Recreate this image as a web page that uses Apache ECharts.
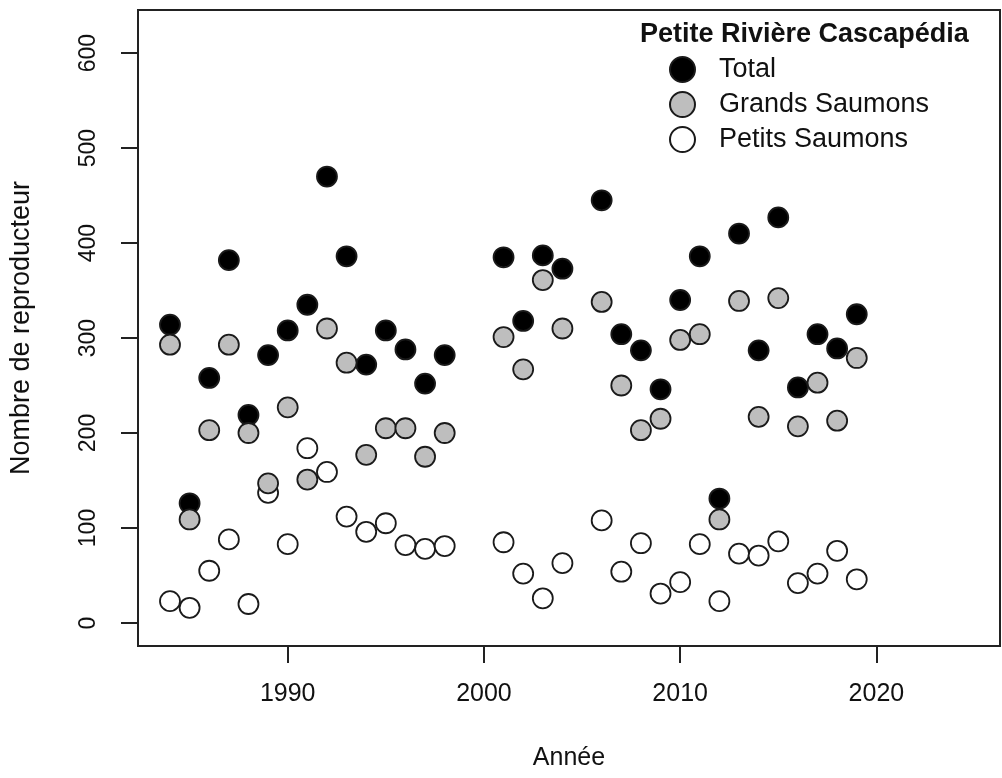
<!DOCTYPE html>
<html>
<head>
<meta charset="utf-8">
<script src="https://cdn.jsdelivr.net/npm/echarts@6/dist/echarts.min.js"></script>
<style>
html,body{margin:0;padding:0;background:#fff;}
#chart{width:1002px;height:778px;}
</style>
</head>
<body>
<div id="chart"></div>
<script>
const years = [1984,1985,1986,1987,1988,1989,1990,1991,1992,1993,1994,1995,1996,1997,1998,2001,2002,2003,2004,2006,2007,2008,2009,2010,2011,2012,2013,2014,2015,2016,2017,2018,2019];
const total = [314,126,258,382,219,282,308,335,470,386,272,308,288,252,282,385,318,387,373,445,304,287,246,340,386,131,410,287,427,248,304,289,325];
const grands = [293,109,203,293,200,147,227,151,310,274,177,205,205,175,200,301,267,361,310,338,250,203,215,298,304,109,339,217,342,207,253,213,279];
const petits = [23,16,55,88,20,137,83,184,159,112,96,105,82,78,81,85,52,26,63,108,54,84,31,43,83,23,73,71,86,42,52,76,46];
const xTicks = [1990,2000,2010,2020];
const yTicks = [0,100,200,300,400,500,600];
const legendTitle = 'Petite Rivière Cascapédia';
const names = ['Total','Grands Saumons','Petits Saumons'];

const FONT = 'Liberation Sans, Arial, sans-serif';
const pair = arr => years.map((y,i)=>[y,arr[i]]);
const chart = echarts.init(document.getElementById('chart'), null, {renderer:'canvas'});
const mk = (name, data, fill) => ({
  name, type:'scatter', data: pair(data), symbol:'circle', symbolSize:20,
  itemStyle:{color:fill, borderColor:'#1a1a1a', borderWidth:1.8, opacity:1},
  emphasis:{disabled:true}
});
chart.setOption({
  animation:false,
  backgroundColor:'#fff',
  title:{text:legendTitle, left:635, top:16,
    textStyle:{fontFamily:FONT, fontSize:27, fontWeight:'bold', color:'#111'}},
  legend:{data:names, orient:'vertical', left:664, top:51, itemWidth:25, itemHeight:25, itemGap:8,
    icon:'circle', textStyle:{fontFamily:FONT, fontSize:27, color:'#111', padding:[0,0,0,19]}},
  grid:{left:136, right:2, top:10, bottom:132, show:true, borderColor:'#222', borderWidth:2, backgroundColor:'transparent'},
  xAxis:{type:'value', min:1982.37, max:2026.3, name:'Année', nameLocation:'middle', nameGap:100,
    nameTextStyle:{fontFamily:FONT, fontSize:25, color:'#111'},
    axisLine:{show:false, onZero:false}, splitLine:{show:false},
    axisTick:{show:true, inside:false, customValues:xTicks, length:17, lineStyle:{color:'#222', width:2}},
    axisLabel:{customValues:xTicks, formatter:v=>String(v), fontFamily:FONT, fontSize:25, color:'#111', margin:36}},
  yAxis:{type:'value', min:-24.2, max:645.3, name:'Nombre de reproducteur', nameLocation:'middle', nameGap:103,
    nameTextStyle:{fontFamily:FONT, fontSize:27, color:'#111'},
    axisLine:{show:false, onZero:false}, splitLine:{show:false},
    axisTick:{show:true, inside:false, customValues:yTicks, length:17, lineStyle:{color:'#222', width:2}},
    axisLabel:{customValues:yTicks, formatter:v=>String(v), rotate:90, fontFamily:FONT, fontSize:23, color:'#111', margin:38}},
  series:[mk(names[0], total, '#000'), mk(names[2], petits, '#fff'), mk(names[1], grands, '#bebebe')]
});
</script>
</body>
</html>
